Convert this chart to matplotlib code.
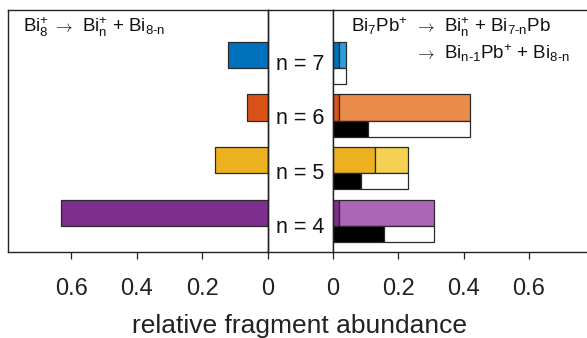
import matplotlib
matplotlib.use("Agg")
import matplotlib.pyplot as plt

plt.rcParams['font.family'] = ['Liberation Sans', 'DejaVu Sans']
plt.rcParams['mathtext.fontset'] = 'custom'
plt.rcParams['mathtext.rm'] = 'Liberation Sans'
plt.rcParams['mathtext.it'] = 'Liberation Sans'
plt.rcParams['mathtext.bf'] = 'Liberation Sans:bold'

# ---- data ----
n_values = [7, 6, 5, 4]
bi8_abundance = [0.122, 0.062, 0.162, 0.631]
bi7pb_bi_frag = [0.019, 0.020, 0.130, 0.020]        # dark segment
bi7pb_total = [0.040, 0.420, 0.230, 0.310]          # total colored bar
bi7pb_black = [0.000, 0.107, 0.088, 0.157]          # black part of lower bar
tick_vals = [0, 0.2, 0.4, 0.6]
tick_labels = ["0", "0.2", "0.4", "0.6"]

dark_colors = ['#0072BD', '#D95319', '#EDB120', '#7E2F8E']
light_colors = ['#27A0DA', '#E98B4A', '#F4D153', '#AD65B8']
edge = '#2a2a2a'
lw = 0.9

W, H = 587, 338
fig = plt.figure(figsize=(W / 100, H / 100), dpi=100)

def fx(px):
    return px / W

def fy(px_top):
    return 1 - px_top / H

top_px, bot_px = 10.0, 252.3
ax_h = (bot_px - top_px) / H
x_left0, x_mid0, x_mid1 = 8.3, 267.5, 332.7
x_right1 = 587.0
px_per_unit = 327.0

axL = fig.add_axes([fx(x_left0), fy(bot_px), fx(x_mid0 - x_left0), ax_h])
axM = fig.add_axes([fx(x_mid0), fy(bot_px), fx(x_mid1 - x_mid0), ax_h])
axR = fig.add_axes([fx(x_mid1), fy(bot_px), fx(x_right1 - x_mid1), ax_h])

ylim = (3.254, 7.854)
xmaxL = (x_mid0 - x_left0) / px_per_unit
xmaxR = (x_right1 - x_mid1) / px_per_unit

# left panel
axL.barh(n_values, bi8_abundance, height=0.5, color=dark_colors,
         edgecolor=edge, linewidth=lw)
axL.set_xlim(xmaxL, 0)
axL.set_ylim(*ylim)

# right panel
light_w = [t - d for t, d in zip(bi7pb_total, bi7pb_bi_frag)]
axR.barh(n_values, bi7pb_bi_frag, height=0.5, color=dark_colors,
         edgecolor=edge, linewidth=lw)
axR.barh(n_values, light_w, left=bi7pb_bi_frag, height=0.5,
         color=light_colors, edgecolor=edge, linewidth=lw)
lower_y = [n - 0.40 for n in n_values]
white_w = [t - b for t, b in zip(bi7pb_total, bi7pb_black)]
axR.barh(lower_y, bi7pb_black, height=0.3, color='black',
         edgecolor=edge, linewidth=lw)
axR.barh(lower_y, white_w, left=bi7pb_black, height=0.3, color='white',
         edgecolor=edge, linewidth=lw)
axR.set_xlim(0, xmaxR)
axR.set_ylim(*ylim)

for ax in (axL, axR):
    ax.set_xticks(tick_vals)
    ax.set_xticklabels(tick_labels)
    ax.set_yticks([])
    ax.tick_params(axis='x', direction='out', length=4.7, width=0.9,
                   labelsize=17, pad=13.5, colors='#222222', labelcolor='#222222')
    for s in ax.spines.values():
        s.set_linewidth(1.0)
        s.set_color('#222222')
axR.spines['right'].set_visible(False)

# middle panel
axM.patch.set_visible(False)
axM.set_xticks([])
axM.set_yticks([])
axM.set_xlim(0, 1)
axM.set_ylim(0, 1)
for s in axM.spines.values():
    s.set_linewidth(1.0)
    s.set_color('#222222')
for n in n_values:
    yfrac = 0.0784 + 0.2247 * (n - 4)
    axM.text(0.5, yfrac, f"n = {n}", ha='center', va='baseline',
             fontsize=15.5, color='#111111', transform=axM.transAxes)

# annotations
fs_ann = 13.5
def ann(px_x, px_base, s, **kw):
    kw.setdefault('fontsize', fs_ann)
    fig.text(fx(px_x), fy(px_base), s, va='baseline',
             ha='left', color='#111111', **kw)

def arrow(px_x, px_base):
    ann(px_x, px_base - 0.5, r"$\rightarrow$", fontsize=12, math_fontfamily='cm')

ann(23.3, 32.3, r"Bi$_{8}^{+}$")
arrow(53.0, 32.3)
ann(82.5, 32.3, r"Bi$_{n}^{+}$ + Bi$_{8\text{-}n}$")

ann(350.7, 32.3, r"Bi$_{7}$Pb$^{+}$")
arrow(414.5, 32.3)
ann(443.5, 32.3, r"Bi$_{n}^{+}$ + Bi$_{7\text{-}n}$Pb")
arrow(414.5, 59.3)
ann(443.5, 59.3, r"Bi$_{n\text{-}1}$Pb$^{+}$ + Bi$_{8\text{-}n}$")

fig.text(fx(300), fy(333), "relative fragment abundance", ha='center',
         va='baseline', fontsize=19, color='#222222')

fig.savefig("out.png", dpi=100)
